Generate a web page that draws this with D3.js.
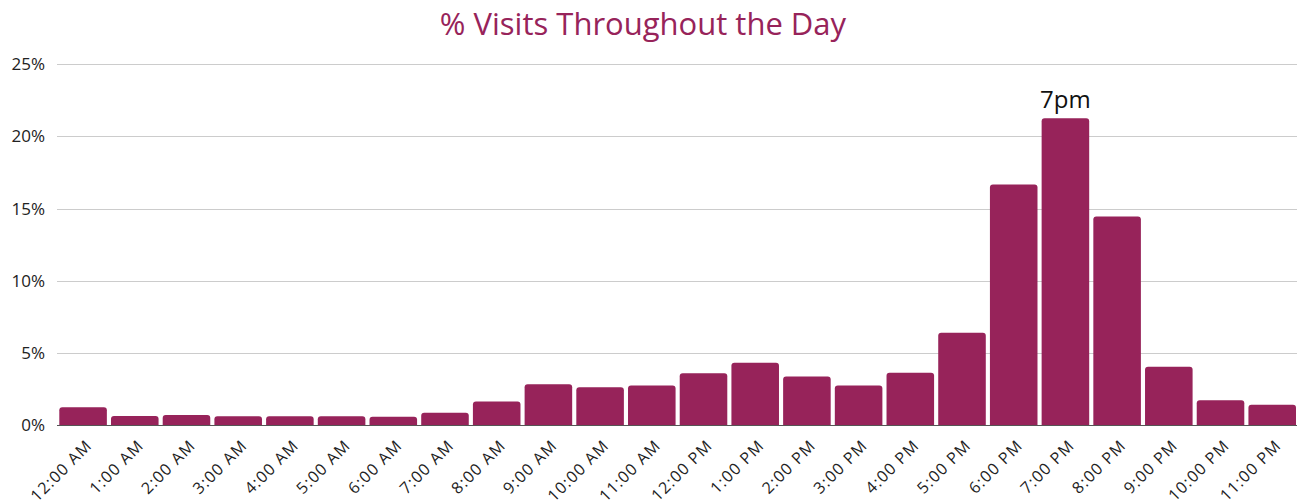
<!DOCTYPE html>
<html>
<head>
<meta charset="utf-8">
<script src="https://cdn.jsdelivr.net/npm/d3@7"></script>
<style>
  body { margin: 0; background: #fff; }
  text { font-family: "Open Sans", sans-serif; }
</style>
</head>
<body>
<script>
var hours = ["12:00 AM","1:00 AM","2:00 AM","3:00 AM","4:00 AM","5:00 AM","6:00 AM","7:00 AM",
  "8:00 AM","9:00 AM","10:00 AM","11:00 AM","12:00 PM","1:00 PM","2:00 PM","3:00 PM",
  "4:00 PM","5:00 PM","6:00 PM","7:00 PM","8:00 PM","9:00 PM","10:00 PM","11:00 PM"];
var visits = [1.27, 0.65, 0.72, 0.64, 0.64, 0.64, 0.6, 0.88,
  1.66, 2.85, 2.64, 2.76, 3.62, 4.34, 3.39, 2.77,
  3.65, 6.42, 16.67, 21.24, 14.45, 4.06, 1.75, 1.43];
var yTicks = [0, 5, 10, 15, 20, 25];
var callout = {hour: "7:00 PM", text: "7pm"};

var W = 1297, H = 502;
var color = "#97235a";

var svg = d3.select("body").append("svg").attr("width", W).attr("height", H);

var x = d3.scaleBand().domain(hours).range([59.3, 1296]).paddingInner(0.08).paddingOuter(0);
var y = d3.scaleLinear().domain([0, 25]).range([425.5, 64]);

// title
svg.append("text")
  .attr("x", 643).attr("y", 35)
  .attr("text-anchor", "middle")
  .style("font-size", "31px")
  .style("fill", color)
  .text("% Visits Throughout the Day");

// gridlines
svg.append("g").selectAll("line").data(yTicks.filter(d => d > 0)).join("line")
  .attr("x1", 57).attr("x2", 1297)
  .attr("y1", d => Math.round(y(d)) + 0.5).attr("y2", d => Math.round(y(d)) + 0.5)
  .attr("stroke", "#cccccc").attr("stroke-width", 1);

// y axis labels
var yAxis = d3.axisLeft(y).tickValues(yTicks).tickFormat(d => d + "%").tickSize(0).tickPadding(0);
var ya = svg.append("g").attr("transform", "translate(45,0)").call(yAxis);
ya.select(".domain").remove();
ya.selectAll("text").style("font-size", "17px").style("fill", "#222").attr("font-family", null);

// bars with rounded top corners
var r = 3;
svg.append("g").selectAll("path").data(visits).join("path")
  .attr("fill", color)
  .attr("d", function (d, i) {
    var x0 = x(hours[i]), w = x.bandwidth(), y0 = y(0), y1 = y(d);
    return "M" + x0 + "," + y0 +
      "V" + (y1 + r) + "Q" + x0 + "," + y1 + " " + (x0 + r) + "," + y1 +
      "H" + (x0 + w - r) + "Q" + (x0 + w) + "," + y1 + " " + (x0 + w) + "," + (y1 + r) +
      "V" + y0 + "Z";
  });

// baseline
svg.append("line")
  .attr("x1", 57).attr("x2", 1297)
  .attr("y1", y(0)).attr("y2", y(0))
  .attr("stroke", "#555").attr("stroke-width", 1);

// x axis labels
var xAxis = d3.axisBottom(x).tickSize(0).tickPadding(0);
var xa = svg.append("g").attr("transform", "translate(0," + y(0) + ")").call(xAxis);
xa.select(".domain").remove();
xa.selectAll("text")
  .attr("font-family", null)
  .style("font-size", "16px")
  .style("letter-spacing", "1.2px")
  .style("fill", "#222")
  .attr("text-anchor", "end")
  .attr("dy", null)
  .attr("transform", "translate(10,21) rotate(-45)");

// callout above the peak
var ci = hours.indexOf(callout.hour);
svg.append("text")
  .attr("x", x(callout.hour) + x.bandwidth() / 2)
  .attr("y", y(visits[ci]) - 10)
  .attr("text-anchor", "middle")
  .style("font-size", "24px")
  .style("fill", "#111")
  .text(callout.text);
</script>
</body>
</html>
